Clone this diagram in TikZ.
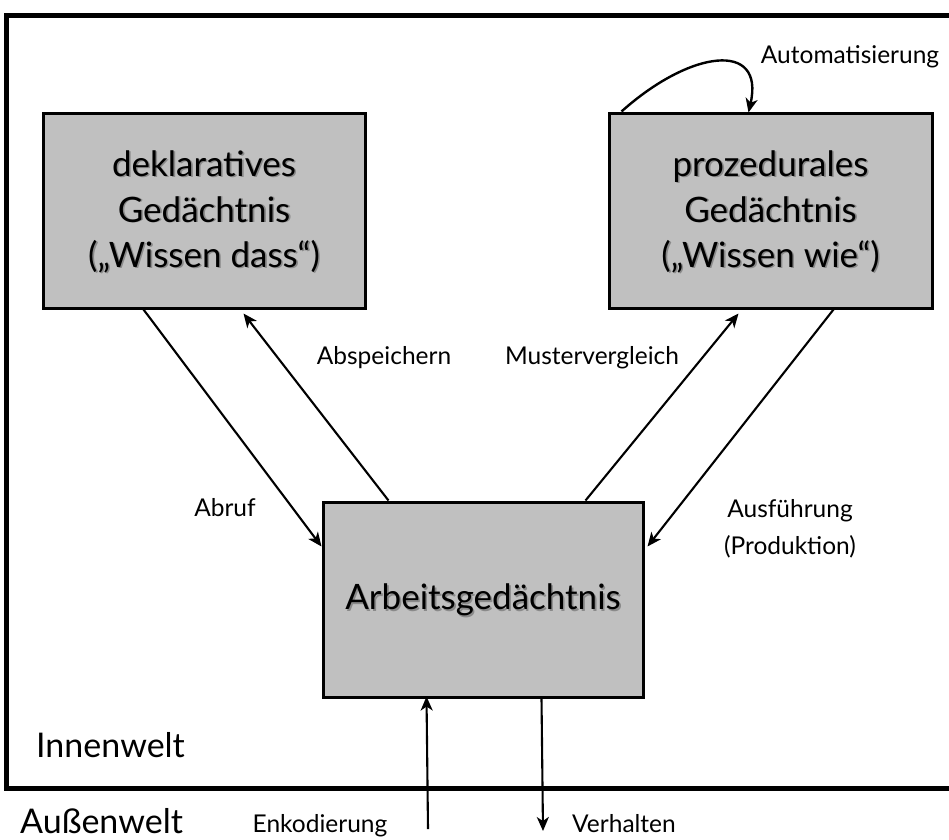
\documentclass[tikz,border=0pt]{standalone}
\usepackage{fontspec}
\setmainfont{Lato}
\usetikzlibrary{arrows.meta,calc}

\definecolor{boxgray}{RGB}{192,192,192}

\tikzset{
  memory/.style={draw=black, line width=3pt, fill=boxgray, inner sep=0pt},
  boxtext/.style={align=center, font=\fontsize{35}{45.5}\selectfont, inner sep=0pt},
  textshade/.style={boxtext, text=black, opacity=0.28},
  flow/.style={line width=2.1pt, -{Stealth[length=14pt, width=12pt, inset=4pt]}},
  lbl/.style={font=\fontsize{24.5}{37}\selectfont, inner sep=0pt},
  world/.style={font=\fontsize{34}{40}\selectfont, inner sep=0pt, anchor=base west},
}

\begin{document}
\begin{tikzpicture}[x=1pt, y=-1pt]
  \useasboundingbox (0,0) rectangle (949,839);
  \fill[white] (0,0) rectangle (949,839);

  % frame of the inner world, open to the right
  \draw[line width=5pt, line join=miter] (960,15) -- (6,15) -- (6,788) -- (960,788);

  % the three memory stores
  \node[memory, minimum width=322pt, minimum height=195pt] (dek) at (204,210.5) {};
  \node[memory, minimum width=323pt, minimum height=195pt] (proz) at (770.5,210.5) {};
  \node[memory, minimum width=320pt, minimum height=195pt] (arb) at (483,599.5) {};

  % box captions with a soft drop shadow
  \node[textshade] at ([shift={(1.6,2.2)}]dek.center) {deklaratives\\Gedächtnis\\(„Wissen dass“)};
  \node[boxtext] (dektext) at ([yshift=-1.5pt]dek.center) {deklaratives\\Gedächtnis\\(„Wissen dass“)};
  \node[textshade] at ([shift={(1.6,2.2)}]proz.center) {prozedurales\\Gedächtnis\\(„Wissen wie“)};
  \node[boxtext] (proztext) at ([yshift=-1.5pt]proz.center) {prozedurales\\Gedächtnis\\(„Wissen wie“)};
  \node[textshade] at ([shift={(1.6,2.2)}]arb.center) {Arbeitsgedächtnis};
  \node[boxtext] (arbtext) at (arb.center) {Arbeitsgedächtnis};

  % connectors between the stores
  \draw[flow] ([xshift=102pt]dek.south west) -- ([yshift=-46pt]arb.north west);
  \draw[flow] ([xshift=67pt]arb.north west) -- ([xshift=202pt, yshift=-4pt]dek.south west);
  \draw[flow] ([xshift=264pt]arb.north west) -- ([xshift=131pt, yshift=-4pt]proz.south west);
  \draw[flow] ([xshift=226pt]proz.south west) -- ([xshift=3pt, yshift=-46pt]arb.north east);

  % self loop of the procedural store
  \draw[flow, line width=2.4pt] ([xshift=14pt]proz.north west) .. controls (690,50) and (765,40) .. ([xshift=141pt, yshift=-1pt]proz.north west);

  % links to the outer world
  \coordinate (enkIn) at (428,829);
  \coordinate (verOut) at (543,831);
  \draw[flow] (enkIn) -- ([xshift=105pt, yshift=2pt]arb.south west);
  \draw[flow] ([xshift=220pt]arb.south west) -- (verOut);

  % connector labels
  \node[lbl] (lauto) at (850,57) {Automatisierung};
  \node[lbl] (lspeich) at (384,358) {Abspeichern};
  \node[lbl] (lmuster) at (592,358) {Mustervergleich};
  \node[lbl] (labruf) at (225,508) {Abruf};
  \node[lbl, align=center] (lausf) at (790,529) {Ausführung\\(Produktion)};
  \node[lbl, anchor=base] (lenk) at (320,832) {Enkodierung};
  \node[lbl, anchor=base west] (lverh) at (572,832) {Verhalten};

  % world captions
  \node[world] (innen) at (36,757) {Innenwelt};
  \node[world] (aussen) at (20,833) {Außenwelt};
\end{tikzpicture}
\end{document}
